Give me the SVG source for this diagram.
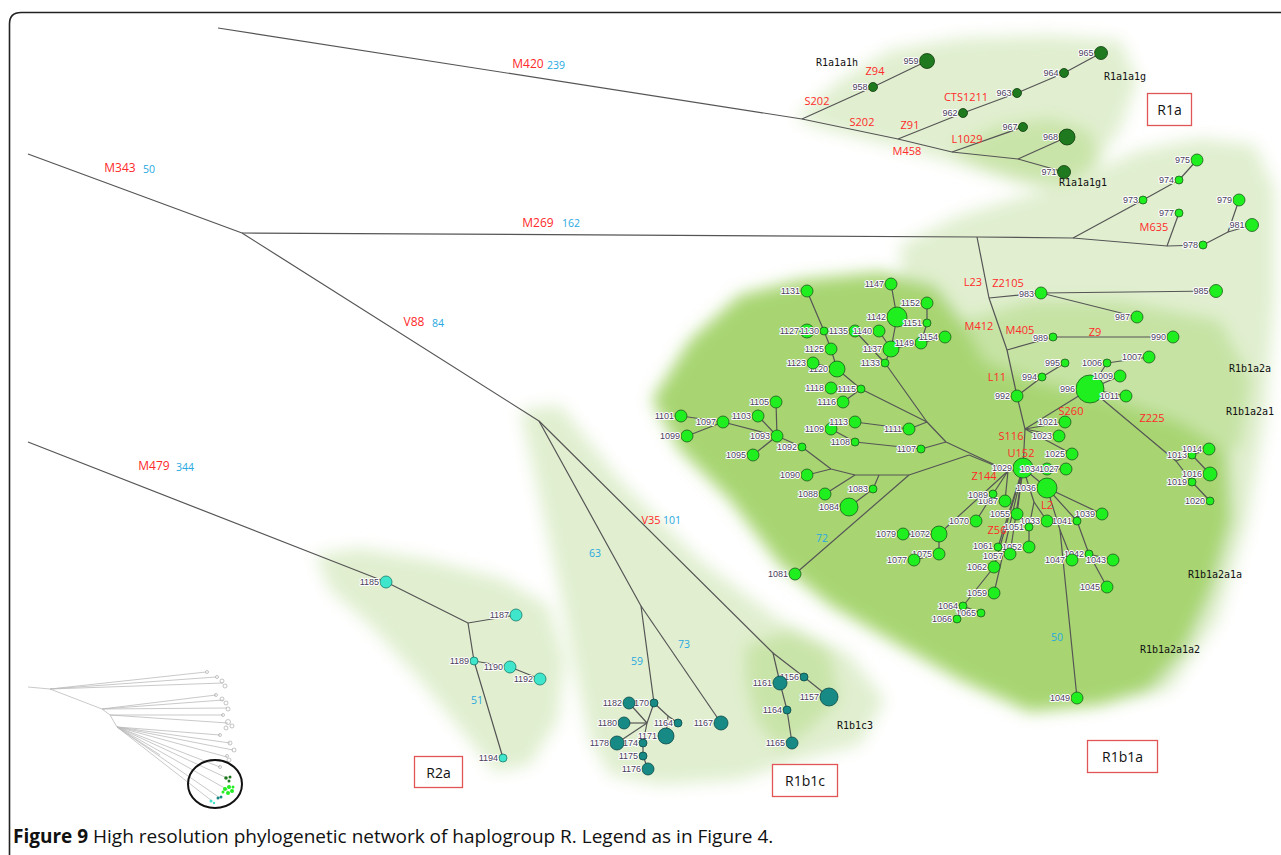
<svg xmlns="http://www.w3.org/2000/svg" width="1281" height="855" viewBox="0 0 1281 855">
<defs>
<filter id="soft" x="-20%" y="-20%" width="140%" height="140%"><feGaussianBlur stdDeviation="8"/></filter>
<style>
.e{stroke:#555;stroke-width:1.2;fill:none;stroke-linejoin:round}
.ei{stroke:#bbb;stroke-width:0.8;fill:none}
.g1{fill:#1f7a1f;stroke:#0c3a0c;stroke-width:0.8}
.g2{fill:#1fee1f;stroke:#1d5a1d;stroke-width:0.8}
.g3{fill:#178a86;stroke:#0a4846;stroke-width:0.8}
.g4{fill:#3fe6cc;stroke:#177a6a;stroke-width:0.8}
.nl{font-family:"Liberation Sans",Arial,sans-serif;font-size:9px;fill:#4a3d5c;text-anchor:end;stroke:#fff;stroke-width:2px;paint-order:stroke;stroke-linejoin:round}
.mk{font-family:"Open Sans","Liberation Sans",sans-serif;font-size:11px;fill:#ff2a2a;text-anchor:middle}
.mb{font-family:"Open Sans","Liberation Sans",sans-serif;font-size:12px;fill:#ff2a2a;text-anchor:middle}
.bl{font-family:"Open Sans","Liberation Sans",sans-serif;font-size:10.5px;fill:#29a9e1;text-anchor:middle}
.gl{font-family:"DejaVu Sans Mono",monospace;font-size:10px;fill:#111;text-anchor:middle}
.bx{fill:#fff;stroke:#e05555;stroke-width:1.3}
.bt{font-family:"Open Sans","Liberation Sans",sans-serif;font-size:14px;fill:#111;text-anchor:middle}
</style>
</defs>
<rect width="1281" height="855" fill="#fff"/>
<path d="M9.5,855 L9.5,24 Q9.5,12.5 21,12.5 L1281,12.5" fill="none" stroke="#222" stroke-width="1.6"/>

<g id="blobs" filter="url(#soft)">
<path fill="#e1efd0" d="M795,118 L840,80 L890,50 L960,38 L1050,35 L1120,40 L1138,80 L1120,130 L1095,165 L1065,190 L1020,185 L960,165 L900,148 L820,128 Z"/>
<path fill="#c9e4a9" d="M950,150 L1000,125 L1050,118 L1090,130 L1100,160 L1075,185 L1030,180 L980,165 Z"/>
<path fill="#e1efd0" d="M900,245 L960,215 L1060,185 L1140,150 L1200,138 L1255,145 L1275,190 L1275,300 L1265,420 L1248,520 L1218,620 L1170,690 L1100,705 L1000,690 L960,600 L920,450 L905,320 Z"/>
<path fill="#c6e3a4" d="M965,320 L1030,300 L1120,300 L1220,320 L1252,380 L1240,450 L1150,440 L1050,430 L980,420 Z"/>
<path fill="#a8d572" d="M652,400 L690,340 L740,295 L800,280 L880,272 L935,285 L962,320 L985,362 L1040,382 L1110,398 L1180,422 L1228,452 L1232,520 L1212,590 L1185,650 L1150,690 L1100,705 L1030,712 L960,680 L890,640 L830,605 L780,565 L730,500 L680,450 Z"/>
<path fill="#e1efd0" d="M520,410 L560,405 L620,480 L700,560 L780,620 L850,655 L885,700 L860,745 L800,760 L740,780 L660,785 L610,775 L590,740 L575,670 L560,590 L540,500 Z"/>
<path fill="#c9e4a9" d="M745,645 L790,630 L830,650 L840,700 L810,730 L780,750 L755,720 L745,680 Z"/>
<path fill="#e1efd0" d="M315,555 L360,548 L430,560 L500,578 L548,605 L565,660 L558,720 L530,765 L495,772 L465,735 L420,680 L370,625 L330,590 Z"/>
</g>

<g id="connectors">
<polyline class="e" points="218,28 802,119 898,139 952,152 1018,159 1064,172"/>
<polyline class="e" points="802,119 873,87 927,61"/>
<polyline class="e" points="898,139 963,113 1017,93 1064,73 1101,53"/>
<polyline class="e" points="952,152 1023,127"/>
<polyline class="e" points="1018,159 1067,137"/>
<polyline class="e" points="28,154 242,233 539,421"/>
<polyline class="e" points="242,233 977,237 1073,238 1167,246 1203,245 1228,232 1239,200"/>
<polyline class="e" points="1228,232 1252,225"/>
<polyline class="e" points="1073,238 1143,200 1179,180 1197,160"/>
<polyline class="e" points="1167,246 1179,213"/>
<polyline class="e" points="977,237 989,298 1007,350 1017,396 1025,429 1023,468"/>
<polyline class="e" points="989,298 1041,293 1216,291"/>
<polyline class="e" points="1041,293 1137,317"/>
<polyline class="e" points="1007,350 1053,337 1173,337"/>
<polyline class="e" points="1017,396 1042,377 1065,363"/>
<polyline class="e" points="1025,429 1090,389"/>
<polyline class="e" points="1025,429 1065,422"/>
<polyline class="e" points="1025,429 1059,436"/>
<polyline class="e" points="1025,429 1072,454"/>
<polyline class="e" points="1090,389 1107,363 1149,357"/>
<polyline class="e" points="1090,389 1120,376"/>
<polyline class="e" points="1090,389 1126,396"/>
<polyline class="e" points="1090,389 1176,461 1192,455 1209,449"/>
<polyline class="e" points="1176,461 1192,482 1210,501"/>
<polyline class="e" points="1192,455 1210,474"/>
<polyline class="e" points="1023,468 1047,469 1066,469"/>
<polyline class="e" points="1023,468 1047,488 1102,514"/>
<polyline class="e" points="1047,488 1077,521 1089,554 1113,560"/>
<polyline class="e" points="1089,554 1107,587"/>
<polyline class="e" points="1047,488 1060,530 1077,698"/>
<polyline class="e" points="1060,530 1072,560"/>
<polyline class="e" points="1023,468 1034,502 1029,527 1029,547"/>
<polyline class="e" points="1034,502 1047,521"/>
<polyline class="e" points="1023,468 1017,514"/>
<polyline class="e" points="1023,468 998,547"/>
<polyline class="e" points="1023,468 1010,554"/>
<polyline class="e" points="1023,468 994,567 963,606 957,619"/>
<polyline class="e" points="963,606 981,613"/>
<polyline class="e" points="1023,468 994,593"/>
<polyline class="e" points="1008,471 1023,468"/>
<polyline class="e" points="1008,471 993,494 976,521"/>
<polyline class="e" points="1008,471 1005,501"/>
<polyline class="e" points="1008,471 939,534 903,534"/>
<polyline class="e" points="939,534 939,554 914,560"/>
<polyline class="e" points="927,422 946,442 1008,471"/>
<polyline class="e" points="946,442 921,449 855,442 831,429"/>
<polyline class="e" points="927,422 909,429 855,422"/>
<polyline class="e" points="927,422 861,389 831,388"/>
<polyline class="e" points="861,389 843,402"/>
<polyline class="e" points="861,389 837,369 813,363"/>
<polyline class="e" points="837,369 831,349 824,331 807,291"/>
<polyline class="e" points="824,331 807,331"/>
<polyline class="e" points="927,422 885,363 855,331"/>
<polyline class="e" points="885,363 891,349 897,317 891,284"/>
<polyline class="e" points="891,349 879,331"/>
<polyline class="e" points="891,349 921,343 927,323 927,303"/>
<polyline class="e" points="921,343 945,337"/>
<polyline class="e" points="969,455 1008,471"/>
<polyline class="e" points="969,455 909,475 879,475 855,475 831,469 802,447 777,436"/>
<polyline class="e" points="831,469 807,475"/>
<polyline class="e" points="855,475 825,494"/>
<polyline class="e" points="879,475 873,489 849,507"/>
<polyline class="e" points="909,475 795,574"/>
<polyline class="e" points="777,436 723,422 681,416"/>
<polyline class="e" points="723,422 687,436"/>
<polyline class="e" points="777,436 758,416"/>
<polyline class="e" points="777,436 776,402"/>
<polyline class="e" points="777,436 753,455"/>
<polyline class="e" points="539,421 641,606 654,703 647,723"/>
<polyline class="e" points="647,723 629,703"/>
<polyline class="e" points="647,723 624,723"/>
<polyline class="e" points="647,723 617,743"/>
<polyline class="e" points="647,723 643,743 643,756 648,769"/>
<polyline class="e" points="654,703 668,716 666,736"/>
<polyline class="e" points="668,716 678,723"/>
<polyline class="e" points="641,606 721,723"/>
<polyline class="e" points="539,421 773,653 780,683 787,710 792,743"/>
<polyline class="e" points="773,653 804,677 829,697"/>
<polyline class="e" points="28,442 386,582 468,623 516,615"/>
<polyline class="e" points="468,623 474,661 503,758"/>
<polyline class="e" points="474,661 510,667 540,679"/>
</g>

<g id="n959"><circle class="g1" cx="927" cy="61" r="7.5"/><text class="nl" x="918.5" y="64">959</text></g>
<g id="n958"><circle class="g1" cx="873" cy="87" r="4.5"/><text class="nl" x="867.5" y="90">958</text></g>
<g id="n962"><circle class="g1" cx="963" cy="113" r="4.5"/><text class="nl" x="957.5" y="116">962</text></g>
<g id="n963"><circle class="g1" cx="1017" cy="93" r="4.5"/><text class="nl" x="1011.5" y="96">963</text></g>
<g id="n964"><circle class="g1" cx="1064" cy="73" r="4.5"/><text class="nl" x="1058.5" y="76">964</text></g>
<g id="n965"><circle class="g1" cx="1101" cy="53" r="6.5"/><text class="nl" x="1093.5" y="56">965</text></g>
<g id="n967"><circle class="g1" cx="1023" cy="127" r="4.5"/><text class="nl" x="1017.5" y="130">967</text></g>
<g id="n968"><circle class="g1" cx="1067" cy="137" r="8"/><text class="nl" x="1058" y="140">968</text></g>
<g id="n971"><circle class="g1" cx="1064" cy="172" r="6.5"/><text class="nl" x="1056.5" y="175">971</text></g>

<g id="n973"><circle class="g2" cx="1143" cy="200" r="4"/><text class="nl" x="1138" y="203">973</text></g>
<g id="n974"><circle class="g2" cx="1179" cy="180" r="4"/><text class="nl" x="1174" y="183">974</text></g>
<g id="n975"><circle class="g2" cx="1197" cy="160" r="6"/><text class="nl" x="1190" y="163">975</text></g>
<g id="n977"><circle class="g2" cx="1179" cy="213" r="4"/><text class="nl" x="1174" y="216">977</text></g>
<g id="n978"><circle class="g2" cx="1203" cy="245" r="4"/><text class="nl" x="1198" y="248">978</text></g>
<g id="n979"><circle class="g2" cx="1239" cy="200" r="6"/><text class="nl" x="1232" y="203">979</text></g>
<g id="n981"><circle class="g2" cx="1252" cy="225" r="6.5"/><text class="nl" x="1244.5" y="228">981</text></g>
<g id="n983"><circle class="g2" cx="1041" cy="293" r="6"/><text class="nl" x="1034" y="297">983</text></g>
<g id="n985"><circle class="g2" cx="1216" cy="291" r="6.5"/><text class="nl" x="1208.5" y="294">985</text></g>
<g id="n987"><circle class="g2" cx="1137" cy="317" r="6"/><text class="nl" x="1130" y="320">987</text></g>
<g id="n989"><circle class="g2" cx="1053" cy="337" r="4"/><text class="nl" x="1048" y="341">989</text></g>
<g id="n990"><circle class="g2" cx="1173" cy="337" r="6"/><text class="nl" x="1166" y="340">990</text></g>
<g id="n992"><circle class="g2" cx="1017" cy="396" r="6"/><text class="nl" x="1010" y="399">992</text></g>
<g id="n994"><circle class="g2" cx="1042" cy="377" r="4"/><text class="nl" x="1037" y="380">994</text></g>
<g id="n995"><circle class="g2" cx="1065" cy="363" r="4"/><text class="nl" x="1060" y="366">995</text></g>
<g id="n996"><circle class="g2" cx="1090" cy="389" r="14"/><text class="nl" x="1075" y="392">996</text></g>
<g id="n1006"><circle class="g2" cx="1107" cy="363" r="4"/><text class="nl" x="1102" y="366">1006</text></g>
<g id="n1007"><circle class="g2" cx="1149" cy="357" r="6"/><text class="nl" x="1142" y="360">1007</text></g>
<g id="n1009"><circle class="g2" cx="1120" cy="376" r="6"/><text class="nl" x="1113" y="379">1009</text></g>
<g id="n1011"><circle class="g2" cx="1126" cy="396" r="6"/><text class="nl" x="1119" y="399">1011</text></g>
<g id="n1013"><circle class="g2" cx="1192" cy="455" r="4"/><text class="nl" x="1187" y="458">1013</text></g>
<g id="n1014"><circle class="g2" cx="1209" cy="449" r="6"/><text class="nl" x="1202" y="452">1014</text></g>
<g id="n1016"><circle class="g2" cx="1210" cy="474" r="7"/><text class="nl" x="1202" y="477">1016</text></g>
<g id="n1019"><circle class="g2" cx="1192" cy="482" r="4"/><text class="nl" x="1187" y="485">1019</text></g>
<g id="n1020"><circle class="g2" cx="1210" cy="501" r="4"/><text class="nl" x="1205" y="504">1020</text></g>
<g id="n1021"><circle class="g2" cx="1065" cy="422" r="6"/><text class="nl" x="1058" y="425">1021</text></g>
<g id="n1023"><circle class="g2" cx="1059" cy="436" r="6"/><text class="nl" x="1052" y="439">1023</text></g>
<g id="n1025"><circle class="g2" cx="1072" cy="454" r="6"/><text class="nl" x="1065" y="457">1025</text></g>
<g id="n1029"><circle class="g2" cx="1023" cy="468" r="10"/><text class="nl" x="1012" y="471">1029</text></g>
<g id="n1034"><circle class="g2" cx="1047" cy="469" r="6"/><text class="nl" x="1040" y="472">1034</text></g>
<g id="n1027"><circle class="g2" cx="1066" cy="469" r="6"/><text class="nl" x="1059" y="472">1027</text></g>
<g id="n1036"><circle class="g2" cx="1047" cy="488" r="10"/><text class="nl" x="1036" y="491">1036</text></g>
<g id="n1039"><circle class="g2" cx="1102" cy="514" r="6"/><text class="nl" x="1095" y="517">1039</text></g>
<g id="n1041"><circle class="g2" cx="1077" cy="521" r="4"/><text class="nl" x="1072" y="524">1041</text></g>
<g id="n1033"><circle class="g2" cx="1047" cy="521" r="6"/><text class="nl" x="1040" y="524">1033</text></g>
<g id="n1051"><circle class="g2" cx="1029" cy="527" r="4"/><text class="nl" x="1024" y="530">1051</text></g>
<g id="n1052"><circle class="g2" cx="1029" cy="547" r="6"/><text class="nl" x="1022" y="550">1052</text></g>
<g id="n1061"><circle class="g2" cx="998" cy="547" r="4"/><text class="nl" x="993" y="549">1061</text></g>
<g id="n1057"><circle class="g2" cx="1010" cy="554" r="6"/><text class="nl" x="1003" y="559">1057</text></g>
<g id="n1055"><circle class="g2" cx="1017" cy="514" r="6"/><text class="nl" x="1010" y="517">1055</text></g>
<g id="n1062"><circle class="g2" cx="994" cy="567" r="6"/><text class="nl" x="987" y="570">1062</text></g>
<g id="n1059"><circle class="g2" cx="994" cy="593" r="6"/><text class="nl" x="987" y="596">1059</text></g>
<g id="n1064"><circle class="g2" cx="963" cy="606" r="4"/><text class="nl" x="958" y="609">1064</text></g>
<g id="n1065"><circle class="g2" cx="981" cy="613" r="4"/><text class="nl" x="976" y="616">1065</text></g>
<g id="n1066"><circle class="g2" cx="957" cy="619" r="4"/><text class="nl" x="952" y="622">1066</text></g>
<g id="n1070"><circle class="g2" cx="976" cy="521" r="6"/><text class="nl" x="969" y="524">1070</text></g>
<g id="n1087"><circle class="g2" cx="1005" cy="501" r="6"/><text class="nl" x="998" y="504">1087</text></g>
<g id="n1089"><circle class="g2" cx="993" cy="494" r="4"/><text class="nl" x="988" y="498">1089</text></g>
<g id="n1072"><circle class="g2" cx="939" cy="534" r="8"/><text class="nl" x="930" y="537">1072</text></g>
<g id="n1075"><circle class="g2" cx="939" cy="554" r="6"/><text class="nl" x="932" y="557">1075</text></g>
<g id="n1077"><circle class="g2" cx="914" cy="560" r="6"/><text class="nl" x="907" y="563">1077</text></g>
<g id="n1079"><circle class="g2" cx="903" cy="534" r="6"/><text class="nl" x="896" y="537">1079</text></g>
<g id="n1042"><circle class="g2" cx="1089" cy="554" r="4"/><text class="nl" x="1084" y="557">1042</text></g>
<g id="n1043"><circle class="g2" cx="1113" cy="560" r="6"/><text class="nl" x="1106" y="563">1043</text></g>
<g id="n1045"><circle class="g2" cx="1107" cy="587" r="6"/><text class="nl" x="1100" y="590">1045</text></g>
<g id="n1047"><circle class="g2" cx="1072" cy="560" r="6"/><text class="nl" x="1065" y="563">1047</text></g>
<g id="n1049"><circle class="g2" cx="1077" cy="698" r="6"/><text class="nl" x="1070" y="701">1049</text></g>
<g id="n1081"><circle class="g2" cx="795" cy="574" r="6"/><text class="nl" x="788" y="577">1081</text></g>
<g id="n1083"><circle class="g2" cx="873" cy="489" r="4"/><text class="nl" x="868" y="492">1083</text></g>
<g id="n1084"><circle class="g2" cx="849" cy="507" r="9"/><text class="nl" x="839" y="510">1084</text></g>
<g id="n1088"><circle class="g2" cx="825" cy="494" r="6"/><text class="nl" x="818" y="497">1088</text></g>
<g id="n1090"><circle class="g2" cx="807" cy="475" r="6"/><text class="nl" x="800" y="478">1090</text></g>
<g id="n1092"><circle class="g2" cx="802" cy="447" r="4"/><text class="nl" x="797" y="450">1092</text></g>
<g id="n1093"><circle class="g2" cx="777" cy="436" r="6"/><text class="nl" x="770" y="439">1093</text></g>
<g id="n1095"><circle class="g2" cx="753" cy="455" r="6"/><text class="nl" x="746" y="458">1095</text></g>
<g id="n1097"><circle class="g2" cx="723" cy="422" r="6"/><text class="nl" x="716" y="425">1097</text></g>
<g id="n1099"><circle class="g2" cx="687" cy="436" r="6"/><text class="nl" x="680" y="439">1099</text></g>
<g id="n1101"><circle class="g2" cx="681" cy="416" r="6"/><text class="nl" x="674" y="419">1101</text></g>
<g id="n1103"><circle class="g2" cx="758" cy="416" r="6"/><text class="nl" x="751" y="419">1103</text></g>
<g id="n1105"><circle class="g2" cx="776" cy="402" r="6"/><text class="nl" x="769" y="405">1105</text></g>
<g id="n1107"><circle class="g2" cx="921" cy="449" r="4"/><text class="nl" x="916" y="452">1107</text></g>
<g id="n1108"><circle class="g2" cx="855" cy="442" r="4"/><text class="nl" x="850" y="445">1108</text></g>
<g id="n1109"><circle class="g2" cx="831" cy="429" r="6"/><text class="nl" x="824" y="432">1109</text></g>
<g id="n1111"><circle class="g2" cx="909" cy="429" r="6"/><text class="nl" x="902" y="432">1111</text></g>
<g id="n1113"><circle class="g2" cx="855" cy="422" r="6"/><text class="nl" x="848" y="425">1113</text></g>
<g id="n1115"><circle class="g2" cx="861" cy="389" r="4"/><text class="nl" x="856" y="392">1115</text></g>
<g id="n1116"><circle class="g2" cx="843" cy="402" r="6"/><text class="nl" x="836" y="405">1116</text></g>
<g id="n1118"><circle class="g2" cx="831" cy="388" r="6"/><text class="nl" x="824" y="391">1118</text></g>
<g id="n1120"><circle class="g2" cx="837" cy="369" r="8"/><text class="nl" x="828" y="372">1120</text></g>
<g id="n1123"><circle class="g2" cx="813" cy="363" r="6"/><text class="nl" x="806" y="366">1123</text></g>
<g id="n1125"><circle class="g2" cx="831" cy="349" r="6"/><text class="nl" x="824" y="352">1125</text></g>
<g id="n1127"><circle class="g2" cx="807" cy="331" r="7"/><text class="nl" x="799" y="334">1127</text></g>
<g id="n1130"><circle class="g2" cx="824" cy="331" r="4"/><text class="nl" x="819" y="334">1130</text></g>
<g id="n1135"><circle class="g2" cx="855" cy="331" r="6"/><text class="nl" x="848" y="334">1135</text></g>
<g id="n1140"><circle class="g2" cx="879" cy="331" r="6"/><text class="nl" x="872" y="334">1140</text></g>
<g id="n1131"><circle class="g2" cx="807" cy="291" r="6"/><text class="nl" x="800" y="294">1131</text></g>
<g id="n1133"><circle class="g2" cx="885" cy="363" r="4"/><text class="nl" x="880" y="366">1133</text></g>
<g id="n1137"><circle class="g2" cx="891" cy="349" r="8"/><text class="nl" x="882" y="352">1137</text></g>
<g id="n1142"><circle class="g2" cx="897" cy="317" r="10"/><text class="nl" x="886" y="320">1142</text></g>
<g id="n1147"><circle class="g2" cx="891" cy="284" r="6"/><text class="nl" x="884" y="287">1147</text></g>
<g id="n1149"><circle class="g2" cx="921" cy="343" r="6"/><text class="nl" x="914" y="346">1149</text></g>
<g id="n1151"><circle class="g2" cx="927" cy="323" r="4"/><text class="nl" x="922" y="326">1151</text></g>
<g id="n1152"><circle class="g2" cx="927" cy="303" r="6"/><text class="nl" x="920" y="306">1152</text></g>
<g id="n1154"><circle class="g2" cx="945" cy="337" r="6"/><text class="nl" x="938" y="340">1154</text></g>

<g id="n1156"><circle class="g3" cx="804" cy="677" r="4"/><text class="nl" x="799" y="680">1156</text></g>
<g id="n1157"><circle class="g3" cx="829" cy="697" r="9"/><text class="nl" x="819" y="700">1157</text></g>
<g id="n1161"><circle class="g3" cx="780" cy="683" r="7"/><text class="nl" x="772" y="686">1161</text></g>
<g id="n1164"><circle class="g3" cx="787" cy="710" r="4"/><text class="nl" x="782" y="713">1164</text></g>
<g id="n1165"><circle class="g3" cx="792" cy="743" r="6"/><text class="nl" x="785" y="746">1165</text></g>
<g id="n1167"><circle class="g3" cx="721" cy="723" r="7"/><text class="nl" x="713" y="726">1167</text></g>
<g id="n1170"><circle class="g3" cx="654" cy="703" r="4"/><text class="nl" x="649" y="706">1170</text></g>
<g id="n1164b"><circle class="g3" cx="678" cy="723" r="4"/><text class="nl" x="673" y="726">1164</text></g>
<g id="n1171"><circle class="g3" cx="666" cy="736" r="8"/><text class="nl" x="657" y="739">1171</text></g>
<g id="n1174"><circle class="g3" cx="643" cy="743" r="4"/><text class="nl" x="638" y="746">1174</text></g>
<g id="n1175"><circle class="g3" cx="643" cy="756" r="4"/><text class="nl" x="638" y="759">1175</text></g>
<g id="n1176"><circle class="g3" cx="648" cy="769" r="6"/><text class="nl" x="641" y="772">1176</text></g>
<g id="n1178"><circle class="g3" cx="617" cy="743" r="7"/><text class="nl" x="609" y="746">1178</text></g>
<g id="n1180"><circle class="g3" cx="624" cy="723" r="6"/><text class="nl" x="617" y="726">1180</text></g>
<g id="n1182"><circle class="g3" cx="629" cy="703" r="6"/><text class="nl" x="622" y="706">1182</text></g>

<g id="n1185"><circle class="g4" cx="386" cy="582" r="6"/><text class="nl" x="379" y="585">1185</text></g>
<g id="n1187"><circle class="g4" cx="516" cy="615" r="6"/><text class="nl" x="509" y="618">1187</text></g>
<g id="n1189"><circle class="g4" cx="474" cy="661" r="4"/><text class="nl" x="469" y="664">1189</text></g>
<g id="n1190"><circle class="g4" cx="510" cy="667" r="6"/><text class="nl" x="503" y="670">1190</text></g>
<g id="n1192"><circle class="g4" cx="540" cy="679" r="6"/><text class="nl" x="533" y="682">1192</text></g>
<g id="n1194"><circle class="g4" cx="503" cy="758" r="4"/><text class="nl" x="498" y="761">1194</text></g>

<g id="markers">
<text class="mb" x="528" y="68">M420</text><text class="bl" x="556" y="69">239</text>
<text class="mb" x="120" y="172">M343</text><text class="bl" x="149" y="173">50</text>
<text class="mb" x="538" y="227">M269</text><text class="bl" x="571" y="227">162</text>
<text class="mb" x="414" y="326">V88</text><text class="bl" x="438" y="327">84</text>
<text class="mb" x="154" y="470">M479</text><text class="bl" x="185" y="471">344</text>
<text class="mk" x="651" y="524">V35</text><text class="bl" x="672" y="524">101</text>
<text class="bl" x="595" y="557">63</text>
<text class="bl" x="637" y="665">59</text>
<text class="bl" x="684" y="648">73</text>
<text class="bl" x="822" y="542">72</text>
<text class="bl" x="477" y="704">51</text>
<text class="bl" x="1057" y="641">50</text>
<text class="mk" x="817" y="105">S202</text>
<text class="mk" x="875" y="75">Z94</text>
<text class="mk" x="862" y="126">S202</text>
<text class="mk" x="910" y="129">Z91</text>
<text class="mk" x="907" y="155">M458</text>
<text class="mk" x="966" y="101">CTS1211</text>
<text class="mk" x="967" y="143">L1029</text>
<text class="mk" x="1154" y="231">M635</text>
<text class="mk" x="973" y="286">L23</text>
<text class="mk" x="1008" y="287">Z2105</text>
<text class="mk" x="979" y="330">M412</text>
<text class="mk" x="1020" y="334">M405</text>
<text class="mk" x="1095" y="336">Z9</text>
<text class="mk" x="997" y="381">L11</text>
<text class="mk" x="1071" y="415">S260</text>
<text class="mk" x="1152" y="422">Z225</text>
<text class="mk" x="1011" y="440">S116</text>
<text class="mk" x="1021" y="457">U152</text>
<text class="mk" x="984" y="480">Z144</text>
<text class="mk" x="1047" y="509">L2</text>
<text class="mk" x="997" y="534">Z56</text>
</g>

<g id="group-labels">
<text class="gl" x="837" y="66">R1a1a1h</text>
<text class="gl" x="1125" y="80">R1a1a1g</text>
<text class="gl" x="1083" y="186">R1a1a1g1</text>
<text class="gl" x="1250" y="372">R1b1a2a</text>
<text class="gl" x="1250" y="415">R1b1a2a1</text>
<text class="gl" x="1215" y="578">R1b1a2a1a</text>
<text class="gl" x="1170" y="653">R1b1a2a1a2</text>
<text class="gl" x="855" y="729">R1b1c3</text>
</g>

<g id="box-R1a"><rect class="bx" x="1147.5" y="93.5" width="44" height="32"/><text class="bt" x="1169.5" y="115">R1a</text></g>
<g id="box-R1b1a"><rect class="bx" x="1087.5" y="740.5" width="70" height="32"/><text class="bt" x="1122.5" y="762">R1b1a</text></g>
<g id="box-R1b1c"><rect class="bx" x="772.5" y="764.5" width="65" height="32"/><text class="bt" x="805" y="786">R1b1c</text></g>
<g id="box-R2a"><rect class="bx" x="414.5" y="756.5" width="48" height="31"/><text class="bt" x="438.5" y="778">R2a</text></g>

<g id="inset">
<polyline class="ei" points="28,687 50,689 206,672"/>
<polyline class="ei" points="50,689 216,677"/>
<polyline class="ei" points="50,689 223,683"/>
<polyline class="ei" points="50,689 102,709 216,695"/>
<polyline class="ei" points="102,709 223,700"/>
<polyline class="ei" points="102,709 227,708"/>
<polyline class="ei" points="102,709 110,715 223,715"/>
<polyline class="ei" points="110,715 228,723"/>
<polyline class="ei" points="110,715 117,727 220,735"/>
<polyline class="ei" points="117,727 230,743"/>
<polyline class="ei" points="117,727 233,750"/>
<polyline class="ei" points="117,727 160,755"/>
<polyline class="ei" points="117,727 227,757"/>
<polyline class="ei" points="117,727 220,767"/>
<polyline class="ei" points="117,727 227,778"/>
<polyline class="ei" points="117,727 228,790"/>
<polyline class="ei" points="117,727 220,798"/>
<polyline class="ei" points="117,727 212,801"/>
<g fill="none" stroke="#aaa" stroke-width="0.7">
<circle cx="207" cy="672" r="1.5"/><circle cx="217" cy="677" r="1.5"/><circle cx="222" cy="681" r="2"/><circle cx="225" cy="686" r="2"/><circle cx="216" cy="695" r="1.5"/><circle cx="222" cy="699" r="2"/><circle cx="226" cy="703" r="2"/><circle cx="228" cy="709" r="2"/><circle cx="223" cy="715" r="1.5"/><circle cx="228" cy="722" r="2.5"/><circle cx="232" cy="726" r="2"/><circle cx="226" cy="728" r="2"/><circle cx="220" cy="735" r="1.5"/><circle cx="230" cy="743" r="2"/><circle cx="234" cy="750" r="2"/><circle cx="227" cy="756" r="1.5"/><circle cx="220" cy="767" r="1.5"/><circle cx="229" cy="760" r="2"/>
</g>
<g fill="#1f7a1f"><circle cx="226" cy="778" r="1.8"/><circle cx="230" cy="777" r="1.5"/><circle cx="229" cy="781" r="1.5"/></g>
<g fill="#22ee22"><circle cx="225" cy="789" r="2"/><circle cx="229" cy="787" r="2"/><circle cx="232" cy="791" r="2"/><circle cx="228" cy="793" r="2"/><circle cx="233" cy="787" r="1.5"/><circle cx="223" cy="792" r="1.5"/></g>
<g fill="#178a86"><circle cx="218" cy="798" r="1.5"/><circle cx="221" cy="797" r="1.5"/></g>
<g fill="#3fe6cc"><circle cx="211" cy="801" r="1.5"/><circle cx="214" cy="803" r="1.2"/></g>
<ellipse cx="215" cy="784" rx="27" ry="24" fill="none" stroke="#111" stroke-width="2"/>
</g>

<text x="13" y="843" font-family="'Open Sans','Liberation Sans',sans-serif" font-size="19" fill="#111"><tspan font-weight="bold">Figure 9</tspan> High resolution phylogenetic network of haplogroup R. Legend as in Figure 4.</text>
</svg>
